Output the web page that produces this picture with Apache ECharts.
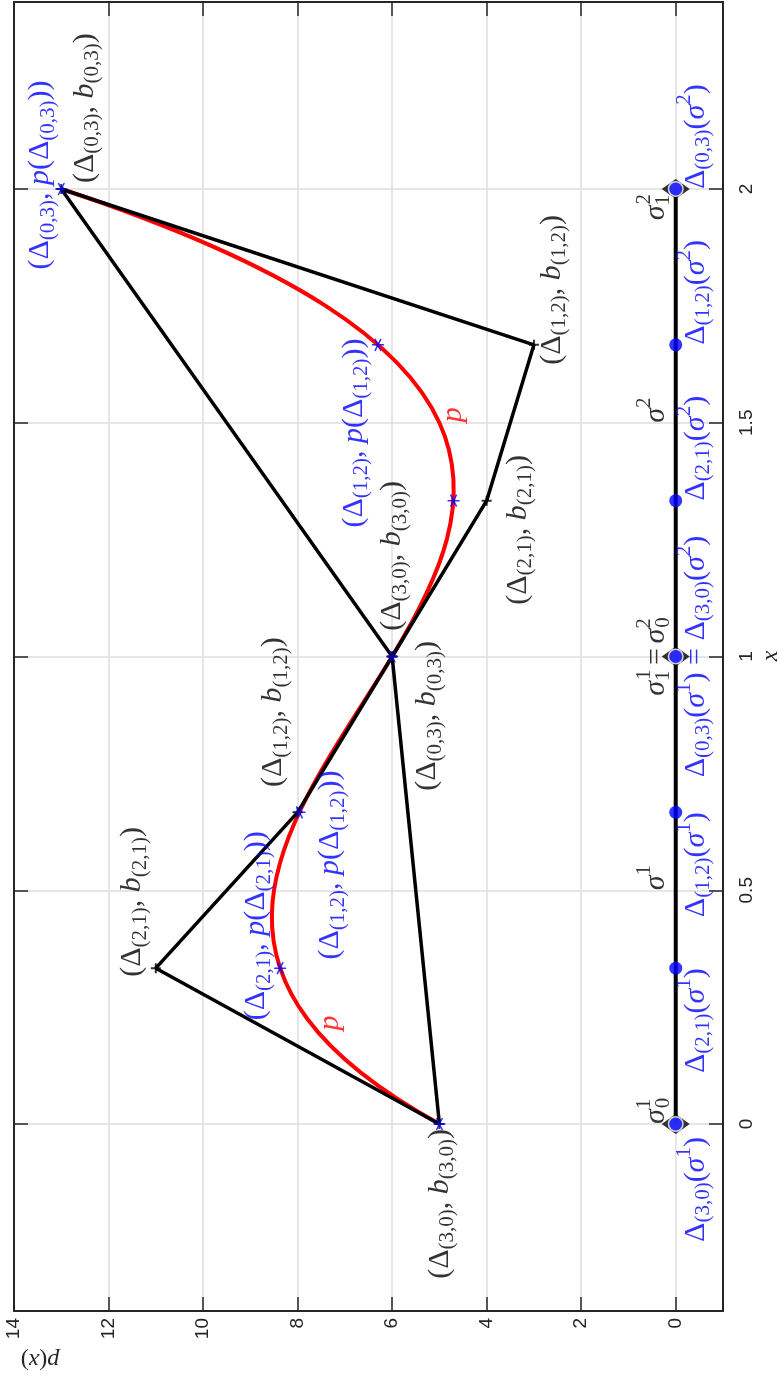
<!DOCTYPE html>
<html><head><meta charset="utf-8">
<script src="https://cdn.jsdelivr.net/npm/echarts@6/dist/echarts.min.js"></script>
<style>html,body{margin:0;padding:0;background:#fff}#c{width:779px;height:1377px}</style>
</head><body><div id="c"></div>
<script>
// ---- data (original orientation: x = parameter, p = value) ----
const xTicks = [0, 0.5, 1, 1.5, 2];
const pTicks = [0, 2, 4, 6, 8, 10, 12, 14];
const ctrlX1 = [0, 1/3, 2/3, 1];
const ctrlB1 = [5, 11, 8, 6];
const ctrlX2 = [1, 4/3, 5/3, 2];
const ctrlB2 = [6, 4, 3, 13];
const deltaX = [0, 1/3, 2/3, 1, 4/3, 5/3, 2];
const pAtDelta = [5, 8.37, 7.96, 6, 4.70, 6.30, 13];
const knotX = [0, 1, 2];

// label anchors (x, p) and subscripts
const ctrlLabelX = [2.173, 1.784, 1.271, 1.215, 0.873, 0.881, 0.475, -0.171];
const ctrlLabelP = [12.50, 2.62, 3.34, 6.00, 5.26, 8.52, 11.50, 4.99];
const ctrlLabelK = ['(0,3)', '(1,2)', '(2,1)', '(3,0)', '(0,3)', '(1,2)', '(2,1)', '(3,0)'];
const curveLabelX = [2.03, 1.478, 0.554, 0.424];
const curveLabelP = [13.45, 6.81, 7.31, 8.88];
const curveLabelK = ['(0,3)', '(1,2)', '(1,2)', '(2,1)'];
const pNameX = [1.517, 0.216];
const pNameP = [4.71, 7.31];
const upDeltaX = [2, 5/3, 4/3];
const upDeltaK = ['(0,3)', '(1,2)', '(2,1)'];
const downDeltaX = [2/3, 1/3, -0.028];
const downDeltaK = ['(1,2)', '(2,1)', '(3,0)'];

// ---- styling helpers ----
const SERIF = 'Liberation Serif', F = 30, S = 21;
function rich(color) {
  return {
    n: {fontFamily: SERIF, fontSize: F, color: color, lineHeight: 40},
    i: {fontFamily: SERIF, fontSize: F, fontStyle: 'italic', color: color, lineHeight: 40},
    s: {fontFamily: SERIF, fontSize: S, color: color, lineHeight: 40, verticalAlign: 'bottom', height: 24},
    sp: {fontFamily: SERIF, fontSize: S, color: color, lineHeight: 40, verticalAlign: 'top', height: 18},
    spz: {fontFamily: SERIF, fontSize: S, color: color, lineHeight: 40, verticalAlign: 'top', height: 18, width: 1}
  };
}
const D = k => `{n|Δ}{s|${k}}`;
const ctrlText = k => `{n|(}${D(k)}{n|, }{i|b}{s|${k}}{n|)}`;
const curveText = k => `{n|(}${D(k)}{n|, }{i|p}{n|(}${D(k)}{n|))}`;
const dsText = (k, j) => `${D(k)}{n|(}{i|σ}{sp|${j}}{n|)}`;

function labelSeries(xs, ps, texts, color, align, valign, extra) {
  return {
    type: 'scatter', symbolSize: 1, silent: true, z: 10,
    itemStyle: {color: 'rgba(0,0,0,0)'},
    emphasis: {disabled: true},
    data: xs.map((x, i) => ({value: [ps[i], x], name: texts[i]})),
    label: Object.assign({
      show: true, position: 'inside', rotate: 90, align: align, verticalAlign: valign,
      formatter: p => p.name, rich: rich(color)
    }, extra || {})
  };
}
const zeros = a => a.map(() => 0);
const toPts = (xs, ys) => xs.map((x, i) => [ys[i], x]);

const poly1 = toPts(ctrlX1, ctrlB1); poly1.push(poly1[0]);
const poly2 = toPts(ctrlX2, ctrlB2); poly2.push(poly2[0]);
const bez = [toPts(ctrlX1, ctrlB1).flat(), toPts(ctrlX2, ctrlB2).flat()];

const AX = '#262626';
function axisCommon(show) {
  return {
    axisLine: {show: true, onZero: false, lineStyle: {color: AX, width: 2}},
    axisTick: {show: true, inside: true, length: 14, lineStyle: {color: AX, width: 1.5}},
    axisLabel: {show: show, rotate: 90, color: AX, fontSize: 19, fontFamily: 'Liberation Sans'},
    splitLine: {show: show, lineStyle: {color: '#dedede', width: 1.5}}
  };
}
function mk(base, extra) {
  const o = JSON.parse(JSON.stringify(base));
  Object.keys(extra).forEach(k => { o[k] = Object.assign(o[k] || {}, extra[k]); });
  return o;
}
const xa0 = Object.assign(mk(axisCommon(true), {axisTick: {customValues: pTicks}, axisLabel: {customValues: pTicks, margin: 7}}),
  {type: 'value', min: -1, max: 14, inverse: true, position: 'bottom'});
const xa1 = Object.assign(mk(axisCommon(false), {axisTick: {customValues: pTicks}}),
  {type: 'value', min: -1, max: 14, inverse: true, position: 'top'});
const ya0 = Object.assign(mk(axisCommon(true), {axisTick: {customValues: xTicks}, axisLabel: {customValues: xTicks, margin: 14}}),
  {type: 'value', min: -0.4, max: 2.4, position: 'right'});
const ya1 = Object.assign(mk(axisCommon(false), {axisTick: {customValues: xTicks}}),
  {type: 'value', min: -0.4, max: 2.4, position: 'left'});

const plusPath = 'path://M-5,0L5,0M0,-5L0,5';
const starPath = 'path://M-5,0L5,0M-2.5,-4.33L2.5,4.33M-2.5,4.33L2.5,-4.33';

const chart = echarts.init(document.getElementById('c'), null, {renderer: 'canvas'});
chart.setOption({
  animation: false,
  backgroundColor: '#fff',
  grid: {left: 14, right: 56, top: 2, bottom: 66, containLabel: false},
  xAxis: [xa0, xa1],
  yAxis: [ya0, ya1],
  graphic: [
    {type: 'text', x: 771, y: 656, rotation: Math.PI / 2, z: 100,
     style: {text: 'x', font: 'italic 24px "Liberation Serif"', fill: AX, align: 'center', verticalAlign: 'middle'}},
    {type: 'text', x: 40, y: 1360, rotation: Math.PI, z: 100,
     style: {text: '{i|p}{n|(}{i|x}{n|)}', align: 'center', verticalAlign: 'middle',
       rich: {i: {fontFamily: SERIF, fontSize: 24, fontStyle: 'italic', fill: AX}, n: {fontFamily: SERIF, fontSize: 24, fill: AX}}}}
  ],
  series: [
    { // red Bezier pieces
      type: 'custom', z: 2, silent: true,
      encode: {x: [0, 2, 4, 6], y: [1, 3, 5, 7]},
      data: bez,
      renderItem: (params, api) => {
        const c = [0, 1, 2, 3].map(k => api.coord([api.value(2 * k), api.value(2 * k + 1)]));
        return {type: 'bezierCurve', shape: {x1: c[0][0], y1: c[0][1], cpx1: c[1][0], cpy1: c[1][1],
          cpx2: c[2][0], cpy2: c[2][1], x2: c[3][0], y2: c[3][1], percent: 1},
          style: {stroke: '#ff0000', lineWidth: 4, fill: 'none'}};
      }
    },
    {type: 'line', z: 3, silent: true, symbol: 'none', data: poly1, lineStyle: {color: '#000', width: 3.5}},
    {type: 'line', z: 3, silent: true, symbol: 'none', data: poly2, lineStyle: {color: '#000', width: 3.5}},
    {type: 'scatter', z: 4, silent: true, symbol: plusPath, symbolSize: 10,
     itemStyle: {color: 'none', borderColor: '#000', borderWidth: 2},
     data: toPts(ctrlX1.concat(ctrlX2), ctrlB1.concat(ctrlB2))},
    {type: 'scatter', z: 5, silent: true, symbol: starPath, symbolSize: 12,
     itemStyle: {color: 'none', borderColor: '#0000ff', borderWidth: 1.5},
     data: toPts(deltaX, pAtDelta)},
    {type: 'line', z: 5, silent: true, symbol: 'none', data: toPts([knotX[0], knotX[knotX.length - 1]], [0, 0]),
     lineStyle: {color: '#000', width: 4}},
    {type: 'scatter', z: 6, silent: true, symbol: 'diamond', symbolSize: [28, 20],
     itemStyle: {color: '#000'}, data: toPts(knotX, zeros(knotX))},
    {type: 'scatter', z: 7, silent: true, symbol: 'circle', symbolSize: 16,
     itemStyle: {color: '#fff'}, data: toPts(knotX, zeros(knotX))},
    {type: 'scatter', z: 8, silent: true, symbol: 'circle', symbolSize: 13,
     itemStyle: {color: '#0000ff'}, data: toPts(deltaX, zeros(deltaX))},

    labelSeries(ctrlLabelX, ctrlLabelP, ctrlLabelK.map(ctrlText), '#000', 'center', 'middle'),
    labelSeries(curveLabelX, curveLabelP, curveLabelK.map(curveText), '#0000ff', 'center', 'middle'),
    labelSeries(pNameX, pNameP, ['{i|p}', '{i|p}'], '#ff0000', 'center', 'middle'),
    // black knot labels (left side of the line)
    labelSeries([0, 0.5, 1.5], [0, 0, 0], ['{i|σ}{spz|1}{s|0}', '{i|σ}{sp|1}', '{i|σ}{sp|2}'], '#000', 'left', 'bottom'),
    labelSeries([2], [0], ['{i|σ}{s|1}{spz|2}'], '#000', 'right', 'bottom', {padding: [0, 5, 0, 0]}),
    labelSeries([1], [0], ['{n|=}'], '#000', 'center', 'bottom'),
    labelSeries([1], [0], ['{i|σ}{s|1}{spz|1}'], '#000', 'right', 'bottom', {padding: [0, 13, 0, 0]}),
    labelSeries([1], [0], ['{i|σ}{spz|2}{s|0}'], '#000', 'left', 'bottom', {padding: [0, 0, 0, 13]}),
    // blue knot labels (right side of the line)
    labelSeries(upDeltaX, zeros(upDeltaX), upDeltaK.map(k => dsText(k, 2)), '#0000ff', 'left', 'top'),
    labelSeries(downDeltaX, zeros(downDeltaX), downDeltaK.map(k => dsText(k, 1)), '#0000ff', 'right', 'top'),
    labelSeries([1], [0], [dsText('(0,3)', 1) + '{n| = }' + dsText('(3,0)', 2)], '#0000ff', 'center', 'top')
  ]
});
</script></body></html>
